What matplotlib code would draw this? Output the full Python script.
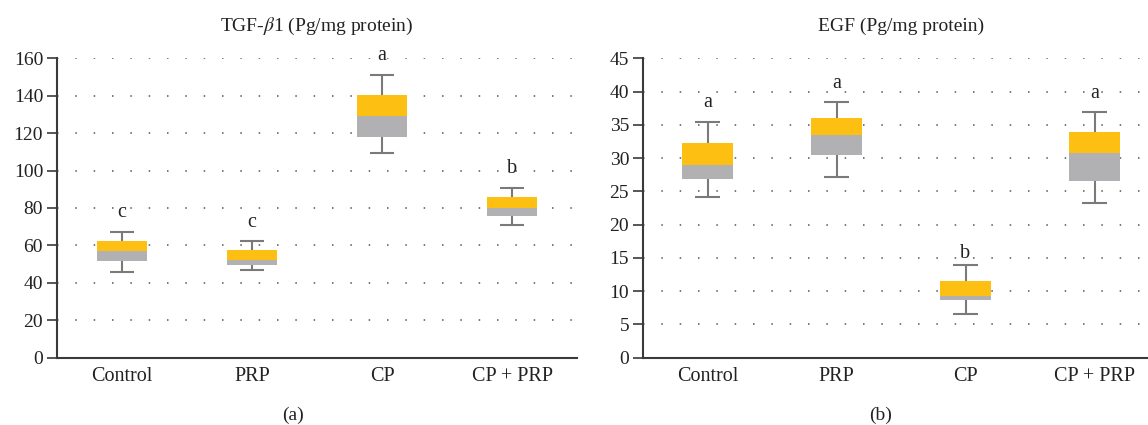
import matplotlib
matplotlib.use("Agg")
import matplotlib.pyplot as plt
import numpy as np

categories = ["Control", "PRP", "CP", "CP + PRP"]

# Panel (a) TGF-beta1
tgf_min = [46.0, 47.0, 109.6, 70.7]
tgf_q1 = [51.8, 49.7, 118.1, 75.9]
tgf_med = [57.0, 52.4, 129.2, 80.2]
tgf_q3 = [62.4, 57.5, 140.2, 85.9]
tgf_max = [67.3, 62.4, 151.3, 90.9]
tgf_letters = ["c", "c", "a", "b"]
tgf_letter_y = [75.0, 70.0, 159.1, 98.9]
tgf_ticks = [0, 20, 40, 60, 80, 100, 120, 140, 160]

# Panel (b) EGF
egf_min = [24.2, 27.2, 6.6, 23.3]
egf_q1 = [26.9, 30.4, 8.6, 26.6]
egf_med = [29.0, 33.5, 9.3, 30.7]
egf_q3 = [32.2, 36.0, 11.6, 33.9]
egf_max = [35.5, 38.4, 13.9, 36.9]
egf_letters = ["a", "a", "b", "a"]
egf_letter_y = [37.7, 40.5, 15.0, 39.1]
egf_ticks = [0, 5, 10, 15, 20, 25, 30, 35, 40, 45]

YELLOW = "#fcbf12"
GRAY = "#b1b1b4"
WHISK = "#7a7a7a"
SPINE = "#3a3a3a"
TXT = "#222222"

plt.rcParams["font.family"] = ["Liberation Serif", "DejaVu Serif"]
plt.rcParams["mathtext.fontset"] = "stix"

W, H = 1148, 425
fig = plt.figure(figsize=(W / 100, H / 100), dpi=100)


def make_panel(rect, mins, q1, med, q3, maxs, letters, letter_y, ticks,
               title, sub, sub_x):
    ax = fig.add_axes(rect)
    x = np.arange(len(categories))
    bw = 0.39
    cw = 0.095
    ax.vlines(x, mins, maxs, color=WHISK, lw=1.5, zorder=2)
    ax.hlines(maxs, x - cw, x + cw, color=WHISK, lw=1.5, zorder=2)
    ax.hlines(mins, x - cw, x + cw, color=WHISK, lw=1.5, zorder=2)
    ax.bar(x, np.array(med) - np.array(q1), bottom=q1, width=bw,
           color=GRAY, zorder=3, linewidth=0)
    ax.bar(x, np.array(q3) - np.array(med), bottom=med, width=bw,
           color=YELLOW, zorder=3, linewidth=0)
    for xi, lt, ly in zip(x, letters, letter_y):
        ax.text(xi, ly, lt, ha="center", va="baseline", fontsize=14.5,
                color=TXT, zorder=4, clip_on=False)
    ax.set_xlim(-0.5, len(categories) - 0.5)
    ax.set_ylim(0, ticks[-1])
    ax.set_yticks(ticks)
    ax.set_xticks(x)
    ax.set_xticklabels(categories)
    for t in ticks[1:]:
        ax.axhline(t, color="#555555", lw=1.1, ls=(0, (1, 11)), zorder=1)
    for s in ["top", "right"]:
        ax.spines[s].set_visible(False)
    for s in ["left", "bottom"]:
        ax.spines[s].set_color(SPINE)
        ax.spines[s].set_linewidth(1.5)
    ax.tick_params(axis="y", direction="out", length=7, width=1.2,
                   color=SPINE, labelsize=14, pad=3, labelcolor=TXT)
    ax.tick_params(axis="x", length=0, labelsize=14.5, pad=7,
                   labelcolor=TXT)
    ax.set_title(title, fontsize=14, pad=20, color=TXT)
    fig.text(sub_x, 1 - 415 / H, sub, ha="center", va="center",
             fontsize=14, color=TXT)
    return ax


make_panel([57 / W, 1 - 357.7 / H, 520 / W, 299.4 / H],
           tgf_min, tgf_q1, tgf_med, tgf_q3, tgf_max,
           tgf_letters, tgf_letter_y, tgf_ticks,
           "TGF-$\\beta$1 (Pg/mg protein)", "(a)", 293 / W)

make_panel([643 / W, 1 - 357.7 / H, 516 / W, 299.4 / H],
           egf_min, egf_q1, egf_med, egf_q3, egf_max,
           egf_letters, egf_letter_y, egf_ticks,
           "EGF (Pg/mg protein)", "(b)", 881 / W)

fig.savefig("out.png", dpi=100)
